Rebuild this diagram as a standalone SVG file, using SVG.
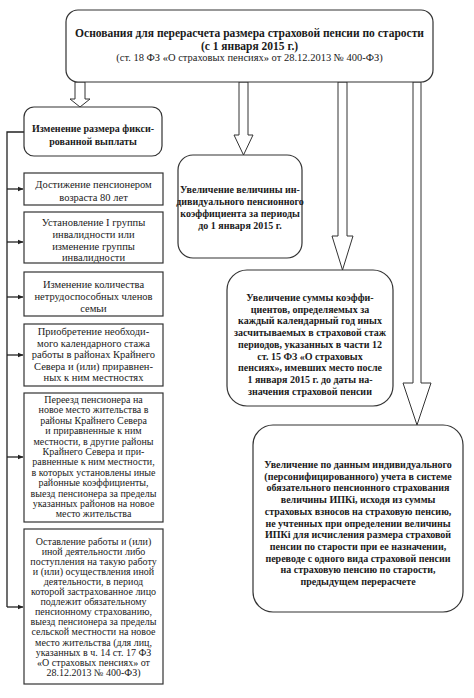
<svg xmlns="http://www.w3.org/2000/svg" width="474" height="698" viewBox="0 0 474 698">
<defs>
<marker id="ah" markerWidth="6" markerHeight="6" refX="5.5" refY="3" orient="auto" markerUnits="userSpaceOnUse">
<path d="M0,0.5 L6,3 L0,5.5 Z" fill="#222"/>
</marker>
</defs>
<style>
.box{fill:#fff;stroke:#333;stroke-width:1.2}
.t{font-family:"Liberation Serif","Times New Roman",serif;fill:#1a1a1a;text-anchor:middle}
.n{font-size:10.5px}
.s{font-size:10px}
.b{font-weight:bold;font-size:10px}
.h{font-weight:bold;font-size:11.5px}
.arr{fill:#fff;stroke:#333;stroke-width:1}
.ln{fill:none;stroke:#222;stroke-width:1.3}
</style>
<rect width="474" height="698" fill="#fff"/>
<g id="connectors">
<polygon class="arr" points="75,82 85,82 85,99 90,99 80,107 70,99 75,99"/>
<polygon class="arr" points="239,82 248,82 248,135 253,135 243.5,155 234,135 239,135"/>
<polygon class="arr" points="338,82 347,82 347,236 353,236 342.5,270 332,236 338,236"/>
<polygon class="arr" points="413,82 421,82 421,383 431,383 417,425 403,383 413,383"/>
<path class="ln" d="M24,132 H7 V607"/>
<path class="ln" d="M7,189 H23" marker-end="url(#ah)"/>
<path class="ln" d="M7,242 H23" marker-end="url(#ah)"/>
<path class="ln" d="M7,297 H23" marker-end="url(#ah)"/>
<path class="ln" d="M7,355 H23" marker-end="url(#ah)"/>
<path class="ln" d="M7,457 H23" marker-end="url(#ah)"/>
<path class="ln" d="M7,607 H23" marker-end="url(#ah)"/>
</g>
<g id="top">
<rect class="box" x="66" y="10" width="367" height="72" rx="12"/>
<text class="t h" x="249.5" y="37">Основания для перерасчета размера страховой пенсии по старости</text>
<text class="t h" x="249.5" y="50">(с 1 января 2015 г.)</text>
<text class="t n" x="249.5" y="61">(ст. 18 ФЗ «О страховых пенсиях» от 28.12.2013 № 400-ФЗ)</text>
</g>
<g id="fixed">
<rect class="box" x="24" y="107" width="138" height="49" rx="10"/>
<text class="t b" x="93" y="132">Изменение размера фикси-</text>
<text class="t b" x="93" y="145">рованной выплаты</text>
</g>
<g id="boxA">
<rect class="box" x="24" y="173" width="139" height="32"/>
<text class="t n" x="93.5" y="188">Достижение пенсионером</text>
<text class="t n" x="93.5" y="201">возраста 80 лет</text>
</g>
<g id="boxB">
<rect class="box" x="24" y="212" width="139" height="51"/>
<text class="t n" x="93.5" y="226">Установление I группы</text>
<text class="t n" x="93.5" y="238">инвалидности или</text>
<text class="t n" x="93.5" y="250">изменение группы</text>
<text class="t n" x="93.5" y="261">инвалидности</text>
</g>
<g id="boxC">
<rect class="box" x="24" y="272" width="139" height="44"/>
<text class="t n" x="93.5" y="288">Изменение количества</text>
<text class="t n" x="93.5" y="300">нетрудоспособных членов</text>
<text class="t n" x="93.5" y="312">семьи</text>
</g>
<g id="boxD">
<rect class="box" x="24" y="324" width="139" height="62"/>
<text class="t n" x="93.5" y="335">Приобретение необходи-</text>
<text class="t n" x="93.5" y="347">мого календарного стажа</text>
<text class="t n" x="93.5" y="358">работы в районах Крайнего</text>
<text class="t n" x="93.5" y="370">Севера и (или) приравнен-</text>
<text class="t n" x="93.5" y="381">ных к ним местностях</text>
</g>
<g id="boxE">
<rect class="box" x="24" y="393" width="139" height="129"/>
<text class="t s" x="93.5" y="403">Переезд пенсионера на</text>
<text class="t s" x="93.5" y="413.4">новое место жительства в</text>
<text class="t s" x="93.5" y="423.8">районы Крайнего Севера</text>
<text class="t s" x="93.5" y="434.2">и приравненные к ним</text>
<text class="t s" x="93.5" y="444.6">местности, в другие районы</text>
<text class="t s" x="93.5" y="455">Крайнего Севера и при-</text>
<text class="t s" x="93.5" y="465.4">равненные к ним местности,</text>
<text class="t s" x="93.5" y="475.8">в которых установлены иные</text>
<text class="t s" x="93.5" y="486.2">районные коэффициенты,</text>
<text class="t s" x="93.5" y="496.6">выезд пенсионера за пределы</text>
<text class="t s" x="93.5" y="507">указанных районов на новое</text>
<text class="t s" x="93.5" y="517.4">место жительства</text>
</g>
<g id="boxF">
<rect class="box" x="24" y="529" width="139" height="155"/>
<text class="t s" x="93.5" y="544.5">Оставление работы и (или)</text>
<text class="t s" x="93.5" y="554.6">иной деятельности либо</text>
<text class="t s" x="93.5" y="564.7">поступления на такую работу</text>
<text class="t s" x="93.5" y="574.8">и (или) осуществления иной</text>
<text class="t s" x="93.5" y="584.9">деятельности, в период</text>
<text class="t s" x="93.5" y="595">которой застрахованное лицо</text>
<text class="t s" x="93.5" y="605.1">подлежит обязательному</text>
<text class="t s" x="93.5" y="615.2">пенсионному страхованию,</text>
<text class="t s" x="93.5" y="625.3">выезд пенсионера за пределы</text>
<text class="t s" x="93.5" y="635.4">сельской местности на новое</text>
<text class="t s" x="93.5" y="645.5">место жительства (для лиц,</text>
<text class="t s" x="93.5" y="655.6">указанных в ч. 14 ст. 17 ФЗ</text>
<text class="t s" x="93.5" y="665.7">«О страховых пенсиях» от</text>
<text class="t s" x="93.5" y="675.8">28.12.2013 № 400-ФЗ)</text>
</g>
<g id="ipk2015">
<rect class="box" x="178" y="155" width="124" height="103" rx="15"/>
<text class="t b" x="240" y="193">Увеличение величины ин-</text>
<text class="t b" x="240" y="205">дивидуального пенсионного</text>
<text class="t b" x="240" y="217">коэффициента за периоды</text>
<text class="t b" x="240" y="229">до 1 января 2015 г.</text>
</g>
<g id="coeff">
<rect class="box" x="227" y="270" width="166" height="136" rx="20"/>
<text class="t b" x="310" y="301">Увеличение суммы коэффи-</text>
<text class="t b" x="310" y="312.7">циентов, определяемых за</text>
<text class="t b" x="310" y="324.4">каждый календарный год иных</text>
<text class="t b" x="310" y="336.1">засчитываемых в страховой стаж</text>
<text class="t b" x="310" y="347.8">периодов, указанных в части 12</text>
<text class="t b" x="310" y="359.5">ст. 15 ФЗ «О страховых</text>
<text class="t b" x="310" y="371.2">пенсиях», имевших место после</text>
<text class="t b" x="310" y="382.9">1 января 2015 г. до даты на-</text>
<text class="t b" x="310" y="394.6">значения страховой пенсии</text>
</g>
<g id="ipki">
<rect class="box" x="253" y="425" width="210" height="187" rx="20"/>
<text class="t b" x="358" y="468">Увеличение по данным индивидуального</text>
<text class="t b" x="358" y="479.7">(персонифицированного) учета в системе</text>
<text class="t b" x="358" y="491.4">обязательного пенсионного страхования</text>
<text class="t b" x="358" y="503.1">величины ИПКi, исходя из суммы</text>
<text class="t b" x="358" y="514.8">страховых взносов на страховую пенсию,</text>
<text class="t b" x="358" y="526.5">не учтенных при определении величины</text>
<text class="t b" x="358" y="538.2">ИПКi для исчисления размера страховой</text>
<text class="t b" x="358" y="549.9">пенсии по старости при ее назначении,</text>
<text class="t b" x="358" y="561.6">переводе с одного вида страховой пенсии</text>
<text class="t b" x="358" y="573.3">на страховую пенсию по старости,</text>
<text class="t b" x="358" y="585">предыдущем перерасчете</text>
</g>
</svg>
